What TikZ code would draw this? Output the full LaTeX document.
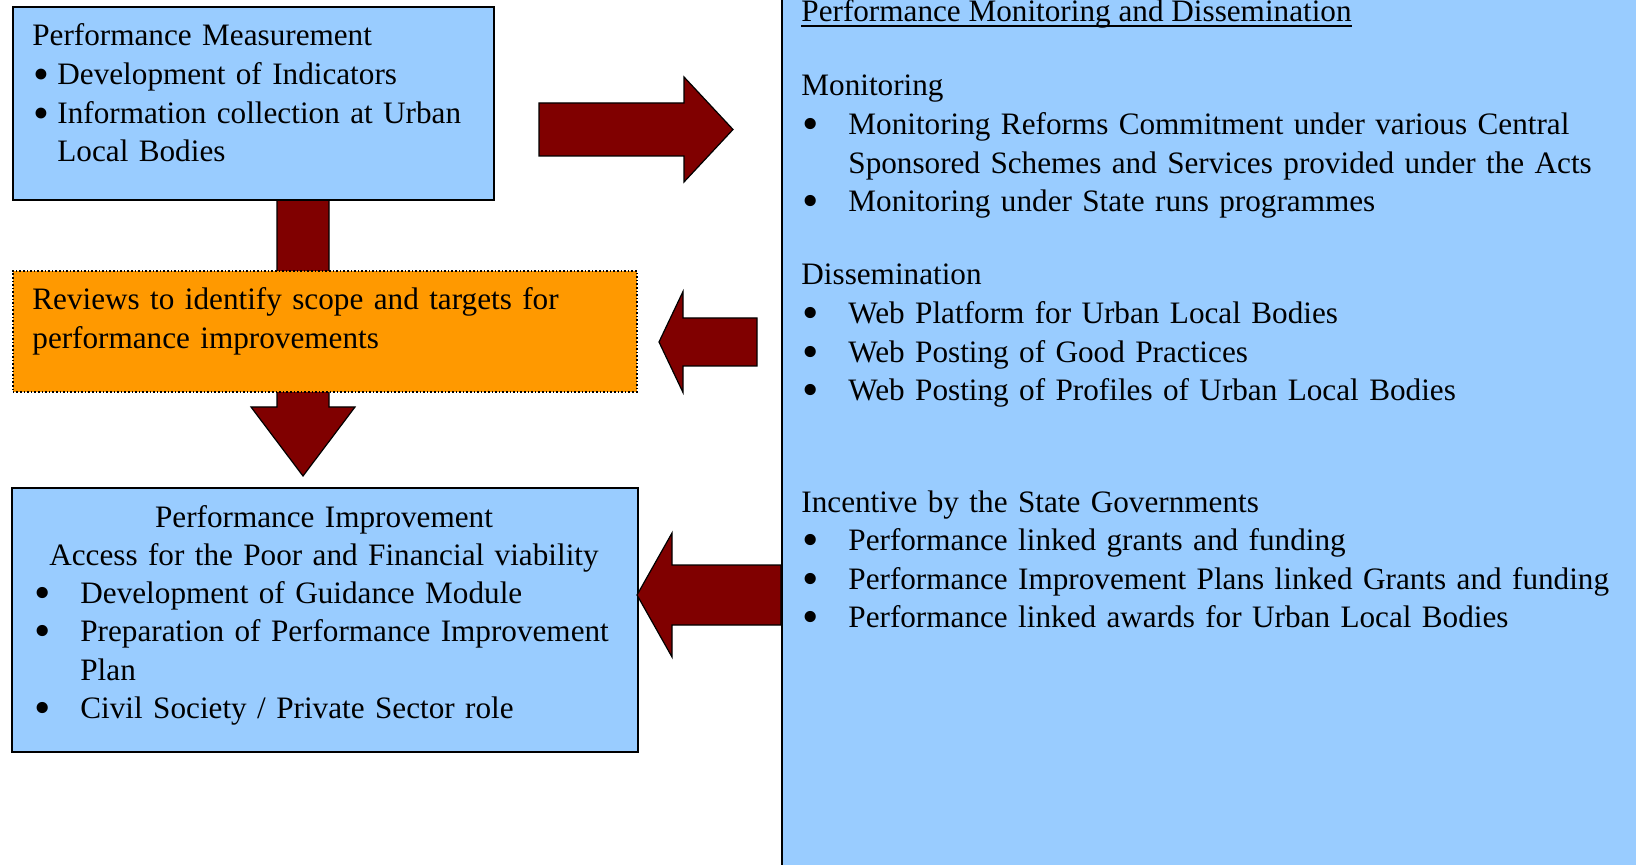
\documentclass[tikz,border=0pt]{standalone}
\usepackage{fontspec}
\setmainfont{Liberation Serif}
\usepackage{tikz}
\usetikzlibrary{calc,positioning}

\definecolor{boxblue}{HTML}{99CCFF}
\definecolor{revieworange}{HTML}{FF9900}
\definecolor{arrowred}{HTML}{800000}

\newcommand{\bodyfont}{\fontsize{15.6pt}{19.3pt}\selectfont}
\newcommand{\bigdot}[2]{\raisebox{#2}{\scalebox{#1}{\textbullet}}}
\newcommand{\dotA}{\makebox[12.5pt][l]{\hspace{0.5pt}\bigdot{1.45}{-2.6pt}}}
\newcommand{\dotB}{\makebox[23.5pt][l]{\hspace{0.5pt}\bigdot{1.5}{-2.5pt}}}
% block arrow: tail, tip, shaft half, head half, head length (pt)
\newcommand{\bigarrow}[5]{%
  \draw[bigarrow] let \p1=(#1), \p2=(#2),
      \n1={atan2(\y2-\y1,\x2-\x1)}, \n2={veclen(\x2-\x1,\y2-\y1)}
    in [shift={(\p1)}, rotate=\n1]
    (0pt,-#3pt) -- (\n2-#5pt,-#3pt) -- (\n2-#5pt,-#4pt) -- (\n2,0pt)
    -- (\n2-#5pt,#4pt) -- (\n2-#5pt,#3pt) -- (0pt,#3pt) -- cycle;}

\tikzset{
  box/.style={draw=black, line width=0.9pt, fill=boxblue, anchor=north west, inner sep=0pt},
  reviewbox/.style={draw=black, densely dotted, line width=0.8pt, fill=revieworange, anchor=north west, inner sep=0pt},
  txt/.style={anchor=base west, inner sep=0pt, align=left, text width=#1, font=\bodyfont},
  bigarrow/.style={draw=black, line width=0.6pt, fill=arrowred}
}

\begin{document}
\begin{tikzpicture}[x=0.5pt,y=-0.5pt]
    \useasboundingbox (0,0) rectangle (1636,865);
    \clip (0,0) rectangle (1636,865);

    % right panel
    \node[box, minimum width=500pt, minimum height=470pt] (panel) at (781,-10) {};

    % arrow from measurement down to improvement (runs behind the review box)
    \coordinate (dtail) at (303,199);
    \coordinate (dtip) at (303,476);
    \bigarrow{dtail}{dtip}{13}{26}{34.5}

    % boxes
    \node[box, minimum width=240.5pt, minimum height=96.5pt] (meas) at (12,6) {};
    \node[reviewbox, minimum width=312pt, minimum height=60.5pt] (review) at (12,270) {};
    \node[box, minimum width=313pt, minimum height=132pt] (improve) at (11,487) {};

    \node[txt=230pt] (meastext) at (32,46)
        {Performance Measurement\\
         \dotA Development of Indicators\\
         \dotA Information collection at Urban\\
         \hspace*{12.5pt}Local Bodies};
    \node[txt=300pt] (reviewtext) at (32,310)
        {Reviews to identify scope and targets for\\
         performance improvements};
    \node[txt=300pt, anchor=base, align=center] (imptitle) at (324,527)
        {Performance Improvement\\
         Access for the Poor and Financial viability};
    \node[txt=300pt] (impitems) at (33,603)
        {\dotB Development of Guidance Module\\
         \dotB Preparation of Performance Improvement\\
         \hspace*{23.5pt}Plan\\
         \dotB Civil Society / Private Sector role};

    % panel text
    \node[anchor=base west, inner sep=0pt, font=\bodyfont] (ptitle) at (801,22)
        {Performance Monitoring and Dissemination};
    \draw[line width=0.8pt] ([yshift=-2pt]ptitle.base west) -- ([yshift=-2pt]ptitle.base east);
    \node[txt=420pt] (monitor) at (801,96)
        {Monitoring\\
         \dotB Monitoring Reforms Commitment under various Central\\
         \hspace*{23.5pt}Sponsored Schemes and Services provided under the Acts\\
         \dotB Monitoring under State runs programmes};
    \node[txt=420pt] (dissem) at (801,285)
        {Dissemination\\
         \dotB Web Platform for Urban Local Bodies\\
         \dotB Web Posting of Good Practices\\
         \dotB Web Posting of Profiles of Urban Local Bodies};
    \node[txt=420pt] (incent) at (801,512)
        {Incentive by the State Governments\\
         \dotB Performance linked grants and funding\\
         \dotB Performance Improvement Plans linked Grants and funding\\
         \dotB Performance linked awards for Urban Local Bodies};

    % block arrows between boxes and panel
    \coordinate (rtail) at (539,129.5);
    \coordinate (rtip) at (733,129.5);
    \bigarrow{rtail}{rtip}{13.25}{26.25}{24.5}
    \coordinate (ltail) at (757,342);
    \coordinate (ltip) at (659,342);
    \bigarrow{ltail}{ltip}{12}{25.25}{12}
    \coordinate (btail) at (781,595);
    \coordinate (btip) at (637,595);
    \bigarrow{btail}{btip}{15}{31}{17.5}
\end{tikzpicture}
\end{document}
